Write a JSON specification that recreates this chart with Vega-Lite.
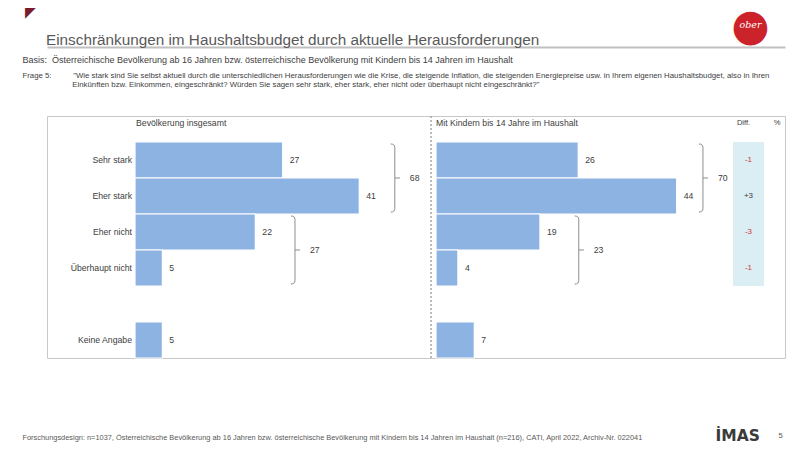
{
  "$schema": "https://vega.github.io/schema/vega-lite/v6.json",
  "width": 738,
  "height": 242,
  "autosize": {"type": "none"},
  "padding": {"left": 47, "top": 116, "right": 15, "bottom": 94},
  "background": "white",
  "config": {
    "font": "Liberation Sans",
    "view": {"stroke": "#c8c8c8", "strokeWidth": 1},
    "locale": {"number": {"decimal": ".", "thousands": ",", "grouping": [3], "currency": ["", ""], "minus": "-"}}
  },
  "title": {
    "text": "Einschränkungen im Haushaltsbudget durch aktuelle Herausforderungen",
    "anchor": "start",
    "frame": "group",
    "fontSize": 15.3,
    "fontWeight": "normal",
    "color": "#595959",
    "baseline": "alphabetic",
    "offset": -56,
    "dx": -1
  },
  "datasets": {
    "gesamt": [
      {"cat": "Sehr stark", "val": 27},
      {"cat": "Eher stark", "val": 41},
      {"cat": "Eher nicht", "val": 22},
      {"cat": "Überhaupt nicht", "val": 5},
      {"cat": "Keine Angabe", "val": 5}
    ],
    "kinder": [
      {"cat": "Sehr stark", "val": 26},
      {"cat": "Eher stark", "val": 44},
      {"cat": "Eher nicht", "val": 19},
      {"cat": "Überhaupt nicht", "val": 4},
      {"cat": "Keine Angabe", "val": 7}
    ],
    "diff": [
      {"cat": "Sehr stark", "diff": -1},
      {"cat": "Eher stark", "diff": 3},
      {"cat": "Eher nicht", "diff": -3},
      {"cat": "Überhaupt nicht", "diff": -1}
    ],
    "brGesamt": [
      {"first": "Sehr stark", "total": 68, "bx": 47.5},
      {"first": "Eher nicht", "total": 27, "bx": 29.25}
    ],
    "brKinder": [
      {"first": "Sehr stark", "total": 70, "bx": 48.8},
      {"first": "Eher nicht", "total": 23, "bx": 26.1}
    ]
  },
  "layer": [
    {
      "data": {"name": "gesamt"},
      "mark": {"type": "bar", "color": "#8db3e2", "stroke": "white", "strokeWidth": 1.2},
      "encoding": {
        "x": {"field": "val", "type": "quantitative", "scale": {"domain": [-16.088, 118.83], "nice": false, "zero": false},
          "axis": {"orient": "top", "offset": 69, "domain": true, "domainColor": "#c0c0c0", "domainWidth": 2, "labels": false, "ticks": false, "grid": false,
            "title": "Basis:\u00a0\u00a0Österreichische Bevölkerung ab 16 Jahren bzw. österreichische Bevölkerung mit Kindern bis 14 Jahren im Haushalt",
            "titleX": -25, "titleY": 12, "titleAlign": "left", "titleAnchor": "start", "titleBaseline": "middle", "titleAngle": 0,
            "titleFontSize": 9, "titleFontWeight": "normal", "titleColor": "#404040"}},
        "y": {"field": "cat", "type": "nominal", "scale": {"domain": ["Sehr stark", "Eher stark", "Eher nicht", "Überhaupt nicht", " ", "Keine Angabe"], "paddingInner": 0, "paddingOuter": 0.361, "align": 1},
          "axis": {"orient": "right", "domain": false, "labels": false, "ticks": false, "grid": false,
            "title": "İMAS", "titleX": -70, "titleY": 319, "titleAngle": 0, "titleAlign": "left", "titleBaseline": "middle",
            "titleFont": "DejaVu Sans", "titleFontWeight": "bold", "titleFontSize": 15.5, "titleColor": "#3a3a3a"}}
      }
    },
    {
      "data": {"name": "gesamt"},
      "mark": {"type": "text", "align": "left", "baseline": "middle", "dx": 7, "fontSize": 8.7, "color": "#404040"},
      "encoding": {
        "x": {"field": "val", "type": "quantitative", "scale": {"domain": [-16.088, 118.83], "nice": false, "zero": false}, "axis": null},
        "y": {"field": "cat", "type": "nominal", "scale": {"domain": ["Sehr stark", "Eher stark", "Eher nicht", "Überhaupt nicht", " ", "Keine Angabe"], "paddingInner": 0, "paddingOuter": 0.361, "align": 1}, "axis": null},
        "text": {"field": "val", "type": "quantitative"}
      }
    },
    {
      "data": {"name": "gesamt"},
      "mark": {"type": "text", "align": "right", "baseline": "middle", "dx": -3, "fontSize": 8.7, "color": "#404040"},
      "encoding": {
        "x": {"datum": 0, "type": "quantitative", "scale": {"domain": [-16.088, 118.83], "nice": false, "zero": false}, "axis": null},
        "y": {"field": "cat", "type": "nominal", "scale": {"domain": ["Sehr stark", "Eher stark", "Eher nicht", "Überhaupt nicht", " ", "Keine Angabe"], "paddingInner": 0, "paddingOuter": 0.361, "align": 1}, "axis": null},
        "text": {"field": "cat", "type": "nominal"}
      }
    },
    {
      "data": {"name": "brGesamt"},
      "mark": {"type": "point", "shape": "M -0.12 -1 Q 0 -1 0 -0.9 L 0 0.9 Q 0 1 -0.12 1 M 0 0 L 0.15 0", "size": 4624, "filled": false, "stroke": "#8c8c8c", "strokeWidth": 1, "opacity": 1},
      "encoding": {
        "x": {"field": "bx", "type": "quantitative", "scale": {"domain": [-16.088, 118.83], "nice": false, "zero": false}, "axis": null},
        "y": {"field": "first", "type": "nominal", "bandPosition": 1, "scale": {"domain": ["Sehr stark", "Eher stark", "Eher nicht", "Überhaupt nicht", " ", "Keine Angabe"], "paddingInner": 0, "paddingOuter": 0.361, "align": 1}, "axis": null}
      }
    },
    {
      "data": {"name": "brGesamt"},
      "mark": {"type": "text", "align": "left", "baseline": "middle", "dx": 15, "fontSize": 8.7, "color": "#404040"},
      "encoding": {
        "x": {"field": "bx", "type": "quantitative", "scale": {"domain": [-16.088, 118.83], "nice": false, "zero": false}, "axis": null},
        "y": {"field": "first", "type": "nominal", "bandPosition": 1, "scale": {"domain": ["Sehr stark", "Eher stark", "Eher nicht", "Überhaupt nicht", " ", "Keine Angabe"], "paddingInner": 0, "paddingOuter": 0.361, "align": 1}, "axis": null},
        "text": {"field": "total", "type": "quantitative"}
      }
    },
    {
      "data": {"values": [{"label": "Bevölkerung insgesamt"}]},
      "mark": {"type": "text", "align": "left", "baseline": "middle", "dx": 1, "dy": -19, "fontSize": 8.7, "color": "#404040"},
      "encoding": {
        "x": {"datum": 0, "type": "quantitative", "scale": {"domain": [-16.088, 118.83], "nice": false, "zero": false}, "axis": null},
        "y": {"datum": "Sehr stark", "type": "nominal", "bandPosition": 0, "scale": {"domain": ["Sehr stark", "Eher stark", "Eher nicht", "Überhaupt nicht", " ", "Keine Angabe"], "paddingInner": 0, "paddingOuter": 0.361, "align": 1},
          "axis": {"orient": "right", "domain": false, "labels": false, "ticks": false, "grid": false,
            "title": "5", "titleX": -7, "titleY": 319, "titleAngle": 0, "titleAlign": "left", "titleBaseline": "middle",
            "titleFontSize": 7.5, "titleFontWeight": "normal", "titleColor": "#595959"}},
        "text": {"field": "label", "type": "nominal"}
      }
    },
    {
      "data": {"name": "kinder"},
      "mark": {"type": "bar", "color": "#8db3e2", "stroke": "white", "strokeWidth": 1.2},
      "encoding": {
        "x": {"field": "val", "type": "quantitative", "scale": {"domain": [-71.115, 63.8], "nice": false, "zero": false},
          "axis": {"orient": "bottom", "domain": false, "labels": false, "ticks": false, "grid": false,
            "title": "Forschungsdesign: n=1037, Österreichische Bevölkerung ab 16 Jahren bzw. österreichische Bevölkerung mit Kindern bis 14 Jahren im Haushalt (n=216), CATI, April 2022, Archiv-Nr. 022041",
            "titleX": -25, "titleY": 79, "titleAlign": "left", "titleAnchor": "start", "titleBaseline": "middle", "titleAngle": 0,
            "titleFontSize": 7.4, "titleFontWeight": "normal", "titleColor": "#595959"}},
        "y": {"field": "cat", "type": "nominal", "scale": {"domain": ["Sehr stark", "Eher stark", "Eher nicht", "Überhaupt nicht", " ", "Keine Angabe"], "paddingInner": 0, "paddingOuter": 0.361, "align": 1},
          "axis": {"orient": "right", "domain": false, "labels": false, "ticks": false, "grid": false,
            "title": "●", "titleX": -35, "titleY": -90, "titleAngle": 0, "titleAlign": "center", "titleBaseline": "middle",
            "titleFont": "DejaVu Sans", "titleFontWeight": "normal", "titleFontSize": 44, "titleColor": "#cc2229"}}
      }
    },
    {
      "data": {"name": "kinder"},
      "mark": {"type": "text", "align": "left", "baseline": "middle", "dx": 7, "fontSize": 8.7, "color": "#404040"},
      "encoding": {
        "x": {"field": "val", "type": "quantitative", "scale": {"domain": [-71.115, 63.8], "nice": false, "zero": false}, "axis": null},
        "y": {"field": "cat", "type": "nominal", "scale": {"domain": ["Sehr stark", "Eher stark", "Eher nicht", "Überhaupt nicht", " ", "Keine Angabe"], "paddingInner": 0, "paddingOuter": 0.361, "align": 1}, "axis": null},
        "text": {"field": "val", "type": "quantitative"}
      }
    },
    {
      "data": {"values": [{}]},
      "mark": {"type": "rule", "color": "#a6a6a6", "strokeDash": [2, 2], "strokeWidth": 1.5},
      "encoding": {
        "x": {"datum": -0.914, "type": "quantitative", "scale": {"domain": [-71.115, 63.8], "nice": false, "zero": false}, "axis": null}
      }
    },
    {
      "data": {"name": "brKinder"},
      "mark": {"type": "point", "shape": "M -0.12 -1 Q 0 -1 0 -0.9 L 0 0.9 Q 0 1 -0.12 1 M 0 0 L 0.15 0", "size": 4624, "filled": false, "stroke": "#8c8c8c", "strokeWidth": 1, "opacity": 1},
      "encoding": {
        "x": {"field": "bx", "type": "quantitative", "scale": {"domain": [-71.115, 63.8], "nice": false, "zero": false}, "axis": null},
        "y": {"field": "first", "type": "nominal", "bandPosition": 1, "scale": {"domain": ["Sehr stark", "Eher stark", "Eher nicht", "Überhaupt nicht", " ", "Keine Angabe"], "paddingInner": 0, "paddingOuter": 0.361, "align": 1}, "axis": null}
      }
    },
    {
      "data": {"name": "brKinder"},
      "mark": {"type": "text", "align": "left", "baseline": "middle", "dx": 15, "fontSize": 8.7, "color": "#404040"},
      "encoding": {
        "x": {"field": "bx", "type": "quantitative", "scale": {"domain": [-71.115, 63.8], "nice": false, "zero": false}, "axis": null},
        "y": {"field": "first", "type": "nominal", "bandPosition": 1, "scale": {"domain": ["Sehr stark", "Eher stark", "Eher nicht", "Überhaupt nicht", " ", "Keine Angabe"], "paddingInner": 0, "paddingOuter": 0.361, "align": 1}, "axis": null},
        "text": {"field": "total", "type": "quantitative"}
      }
    },
    {
      "data": {"values": [{"label": "Mit Kindern bis 14 Jahre im Haushalt"}]},
      "mark": {"type": "text", "align": "left", "baseline": "middle", "dx": 0, "dy": -19, "fontSize": 8.7, "color": "#404040"},
      "encoding": {
        "x": {"datum": 0, "type": "quantitative", "scale": {"domain": [-71.115, 63.8], "nice": false, "zero": false}, "axis": null},
        "y": {"datum": "Sehr stark", "type": "nominal", "bandPosition": 0, "scale": {"domain": ["Sehr stark", "Eher stark", "Eher nicht", "Überhaupt nicht", " ", "Keine Angabe"], "paddingInner": 0, "paddingOuter": 0.361, "align": 1},
          "axis": {"orient": "right", "domain": false, "labels": false, "ticks": false, "grid": false,
            "title": "ober", "titleX": -35, "titleY": -92, "titleAngle": 0, "titleAlign": "center", "titleBaseline": "middle",
            "titleFont": "DejaVu Serif", "titleFontStyle": "italic", "titleFontWeight": "normal", "titleFontSize": 9.5, "titleColor": "#ffffff"}},
        "text": {"field": "label", "type": "nominal"}
      }
    },
    {
      "data": {"name": "diff"},
      "mark": {"type": "rect", "color": "#daeef3"},
      "encoding": {
        "x": {"datum": 0, "type": "quantitative", "scale": {"domain": [-22.129, 1.677], "nice": false, "zero": false},
          "axis": {"orient": "top", "domain": false, "labels": false, "ticks": false, "grid": false,
            "title": ["Frage 5:\u00a0\u00a0\u00a0\u00a0\u00a0\u00a0\u00a0\u00a0\u00a0\u00a0\"Wie stark sind Sie selbst aktuell durch die unterschiedlichen Herausforderungen wie die Krise, die steigende Inflation, die steigenden Energiepreise usw. in Ihrem eigenen Haushaltsbudget, also in Ihren", "\u200b\u00a0\u00a0\u00a0\u00a0\u00a0\u00a0\u00a0\u00a0\u00a0\u00a0\u00a0\u00a0\u00a0\u00a0\u00a0\u00a0\u00a0\u00a0\u00a0\u00a0\u00a0\u00a0\u00a0Einkünften bzw. Einkommen, eingeschränkt? Würden Sie sagen sehr stark, eher stark, eher nicht oder überhaupt nicht eingeschränkt?\""],
            "titleX": -25, "titleY": -41, "titleAlign": "left", "titleAnchor": "start", "titleBaseline": "middle", "titleAngle": 0, "titleLineHeight": 9.5,
            "titleFontSize": 7.8, "titleFontWeight": "normal", "titleColor": "#404040"}},
        "x2": {"datum": 1},
        "y": {"field": "cat", "type": "nominal", "scale": {"domain": ["Sehr stark", "Eher stark", "Eher nicht", "Überhaupt nicht", " ", "Keine Angabe"], "paddingInner": 0, "paddingOuter": 0.361, "align": 1},
          "axis": {"orient": "right", "domain": false, "labels": false, "ticks": false, "grid": false,
            "title": "◤", "titleX": -755, "titleY": -104, "titleAngle": 0, "titleAlign": "center", "titleBaseline": "middle",
            "titleFont": "DejaVu Sans", "titleFontWeight": "normal", "titleFontSize": 14, "titleColor": "#7b1a2c"}}
      }
    },
    {
      "data": {"name": "diff"},
      "mark": {"type": "text", "align": "center", "baseline": "middle", "fontSize": 8},
      "encoding": {
        "x": {"datum": 0.5, "type": "quantitative", "scale": {"domain": [-22.129, 1.677], "nice": false, "zero": false}, "axis": null},
        "y": {"field": "cat", "type": "nominal", "scale": {"domain": ["Sehr stark", "Eher stark", "Eher nicht", "Überhaupt nicht", " ", "Keine Angabe"], "paddingInner": 0, "paddingOuter": 0.361, "align": 1}, "axis": null},
        "text": {"field": "diff", "type": "quantitative", "format": "+d"},
        "color": {"condition": {"test": "datum.diff < 0", "value": "#d03a35"}, "value": "#404040"}
      }
    },
    {
      "data": {"values": [{"label": "Diff."}]},
      "mark": {"type": "text", "align": "center", "baseline": "middle", "dx": -5, "dy": -19, "fontSize": 7.5, "color": "#404040"},
      "encoding": {
        "x": {"datum": 0.5, "type": "quantitative", "scale": {"domain": [-22.129, 1.677], "nice": false, "zero": false}, "axis": null},
        "y": {"datum": "Sehr stark", "type": "nominal", "bandPosition": 0, "scale": {"domain": ["Sehr stark", "Eher stark", "Eher nicht", "Überhaupt nicht", " ", "Keine Angabe"], "paddingInner": 0, "paddingOuter": 0.361, "align": 1}, "axis": null},
        "text": {"field": "label", "type": "nominal"}
      }
    },
    {
      "data": {"values": [{"label": "%"}]},
      "mark": {"type": "text", "align": "center", "baseline": "middle", "dy": -19, "fontSize": 7.5, "color": "#404040"},
      "encoding": {
        "x": {"datum": 1.42, "type": "quantitative", "scale": {"domain": [-22.129, 1.677], "nice": false, "zero": false}, "axis": null},
        "y": {"datum": "Sehr stark", "type": "nominal", "bandPosition": 0, "scale": {"domain": ["Sehr stark", "Eher stark", "Eher nicht", "Überhaupt nicht", " ", "Keine Angabe"], "paddingInner": 0, "paddingOuter": 0.361, "align": 1}, "axis": null},
        "text": {"field": "label", "type": "nominal"}
      }
    }
  ],
  "resolve": {"scale": {"x": "independent"}, "axis": {"x": "independent", "y": "independent"}}
}
